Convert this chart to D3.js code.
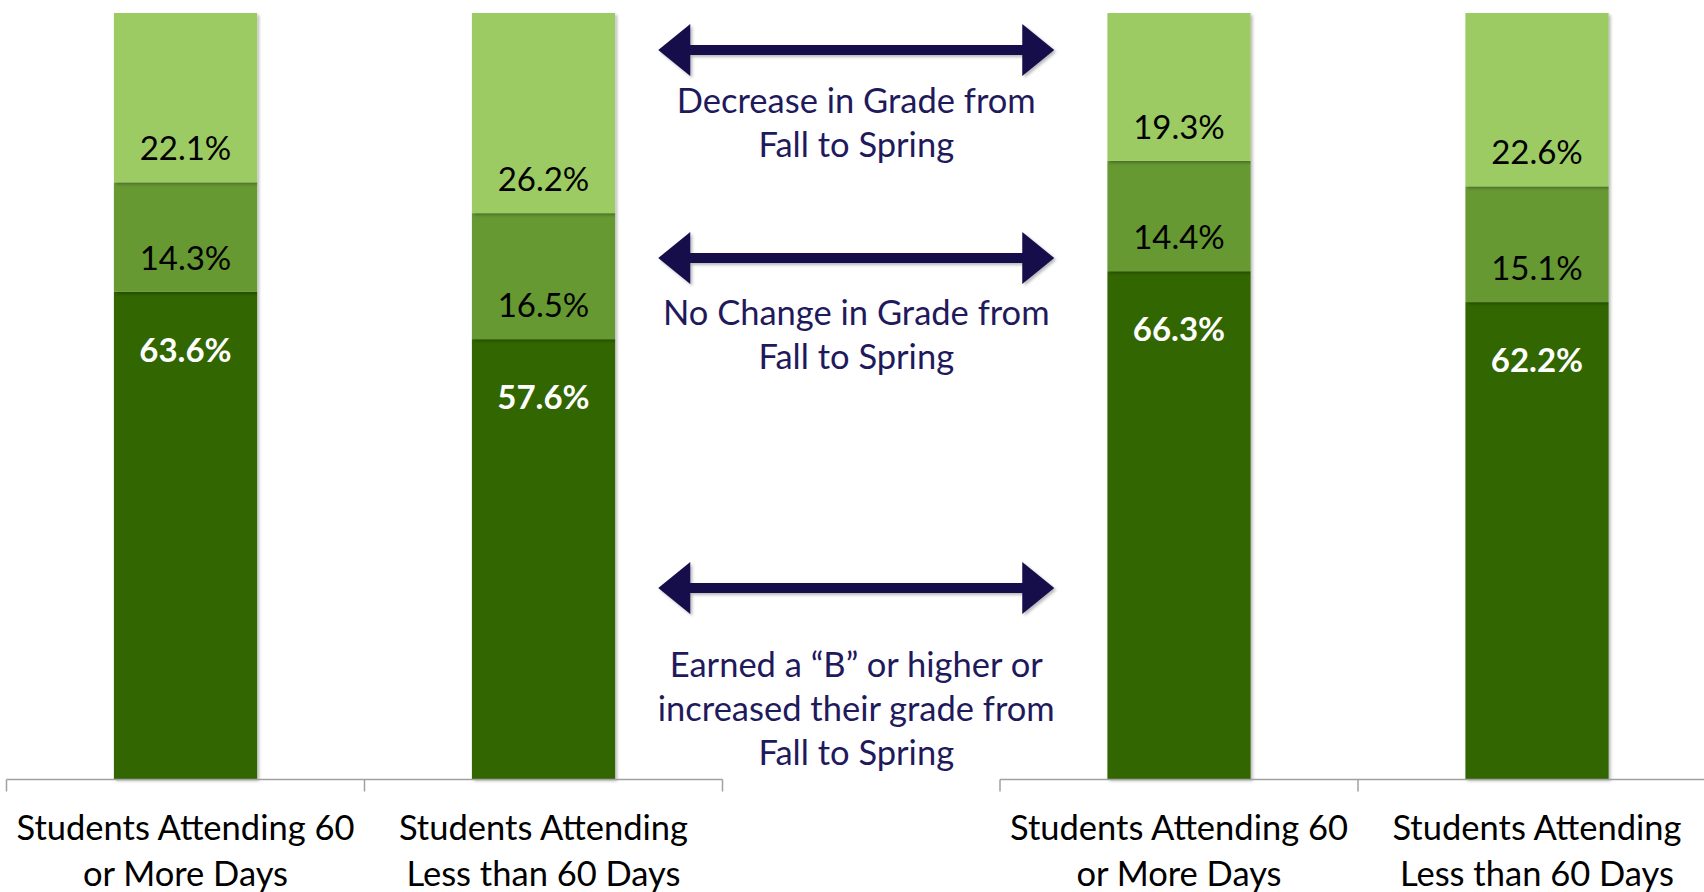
<!DOCTYPE html>
<html>
<head>
<meta charset="utf-8">
<script src="https://cdn.jsdelivr.net/npm/d3@7"></script>
<style>
  html, body { margin: 0; padding: 0; background: #fff; overflow: hidden; }
  svg { display: block; font-family: Lato, "Open Sans", sans-serif; }
</style>
</head>
<body>
<div id="chart"></div>
<script>
// categories: two groups of two bars each
const categories = [
  ["Students Attending 60", "or More Days"],
  ["Students Attending", "Less than 60 Days"],
  ["Students Attending 60", "or More Days"],
  ["Students Attending", "Less than 60 Days"]
];
const groupOf = [0, 0, 1, 1];

// series (bottom to top)
const seriesKeys = ["increased", "noChange", "decrease"];
const increased = [63.6, 57.6, 66.3, 62.2];
const noChange  = [14.3, 16.5, 14.4, 15.1];
const decrease  = [22.1, 26.2, 19.3, 22.6];

const legendNotes = [
  ["Decrease in Grade from", "Fall to Spring"],
  ["No Change in Grade from", "Fall to Spring"],
  ["Earned a \u201CB\u201D or higher or", "increased their grade from", "Fall to Spring"]
];

const width = 1704, height = 892;
const colors = { increased: "#336600", noChange: "#669933", decrease: "#9ccb64" };
const labelColors = { increased: "#ffffff", noChange: "#000000", decrease: "#000000" };
const navy = "#170f4c";

const rows = categories.map((c, i) => ({
  idx: i, increased: increased[i], noChange: noChange[i], decrease: decrease[i]
}));

const stack = d3.stack().keys(seriesKeys).offset(d3.stackOffsetExpand);
const stacked = stack(rows);

const y = d3.scaleLinear().domain([0, 1]).range([779, 13]);

// one band scale per group
const groupRanges = [[6.5, 722.5], [1000, 1716]];
const xScales = groupRanges.map((r, g) =>
  d3.scaleBand()
    .domain(rows.filter(d => groupOf[d.idx] === g).map(d => d.idx))
    .range(r)
    .paddingInner(0));
const xOf = i => xScales[groupOf[i]](i);
const bw = xScales[0].bandwidth();
const barW = bw * 0.4;

const svg = d3.select("#chart").append("svg")
  .attr("width", width)
  .attr("height", height);

const defs = svg.append("defs");
defs.append("filter").attr("id", "shadow")
  .attr("x", "-10%").attr("y", "-10%").attr("width", "130%").attr("height", "130%")
  .append("feDropShadow")
  .attr("dx", 2).attr("dy", 2).attr("stdDeviation", 1.8)
  .attr("flood-color", "#000").attr("flood-opacity", 0.28);

// bars
const layers = svg.append("g").selectAll("g")
  .data(stacked)
  .join("g")
  .attr("fill", d => colors[d.key]);

layers.selectAll("rect")
  .data(d => d)
  .join("rect")
  .attr("x", d => xOf(d.data.idx) + (bw - barW) / 2)
  .attr("y", d => y(d[1]))
  .attr("width", barW)
  .attr("height", d => y(d[0]) - y(d[1]))
  .attr("filter", "url(#shadow)");

// labels: light and mid near bottom of segment, dark near its top
const labels = svg.append("g");
stacked.forEach(layer => {
  labels.selectAll(null)
    .data(layer)
    .join("text")
    .attr("x", d => xOf(d.data.idx) + bw / 2)
    .attr("y", d => layer.key === "increased" ? y(d[1]) + 58 : y(d[0]) - 34)
    .attr("dy", "0.36em")
    .attr("text-anchor", "middle")
    .attr("font-size", 33)
    .attr("font-weight", layer.key === "increased" ? 700 : 400)
    .attr("fill", labelColors[layer.key])
    .text(d => d.data[layer.key].toFixed(1) + "%");
});

// category axes (Excel style, ticks between categories)
const axisY = 779.5;
xScales.forEach(xs => {
  const g = svg.append("g").attr("stroke", "#a0a0a0").attr("stroke-width", 1.5);
  const [r0, r1] = xs.range();
  g.append("line").attr("x1", r0).attr("x2", r1).attr("y1", axisY).attr("y2", axisY);
  const ticks = xs.domain().map(i => xs(i)).concat([r1]);
  g.selectAll(null).data(ticks).join("line")
    .attr("x1", d => d).attr("x2", d => d)
    .attr("y1", axisY).attr("y2", axisY + 12);
});

const cat = svg.append("g").attr("font-size", 34.5).attr("fill", "#000").attr("text-anchor", "middle");
categories.forEach((lines, i) => {
  cat.append("text")
    .attr("x", xOf(i) + bw / 2)
    .attr("y", 840)
    .selectAll("tspan")
    .data(lines)
    .join("tspan")
    .attr("x", xOf(i) + bw / 2)
    .attr("dy", (d, k) => k === 0 ? 0 : 46)
    .text(d => d);
});

// arrows + notes between the groups
const midX = (xOf(1) + bw / 2 + barW / 2 + xOf(2) + (bw - barW) / 2) / 2 - 5;
const arrowHalf = 198, headLen = 32, headHalf = 26, shaftHalf = 5;
const arrowYs = [50, 258, 588];
const noteYs = [101, 313, 665];

function arrowPath(cx, cy) {
  const l = cx - arrowHalf, r = cx + arrowHalf;
  return [
    [l, cy], [l + headLen, cy - headHalf], [l + headLen, cy - shaftHalf],
    [r - headLen, cy - shaftHalf], [r - headLen, cy - headHalf], [r, cy],
    [r - headLen, cy + headHalf], [r - headLen, cy + shaftHalf],
    [l + headLen, cy + shaftHalf], [l + headLen, cy + headHalf]
  ].map((p, k) => (k ? "L" : "M") + p[0] + "," + p[1]).join("") + "Z";
}

const notes = svg.append("g");
legendNotes.forEach((lines, k) => {
  notes.append("path")
    .attr("d", arrowPath(midX, arrowYs[k]))
    .attr("fill", navy)
    .attr("filter", "url(#shadow)");
  notes.append("text")
    .attr("text-anchor", "middle")
    .attr("font-size", 34.5)
    .attr("fill", "#1f1a5c")
    .attr("y", noteYs[k])
    .attr("dy", "0.36em")
    .selectAll("tspan")
    .data(lines)
    .join("tspan")
    .attr("x", midX)
    .attr("dy", (d, j) => j === 0 ? "0.36em" : 44)
    .text(d => d);
});
</script>
</body>
</html>
